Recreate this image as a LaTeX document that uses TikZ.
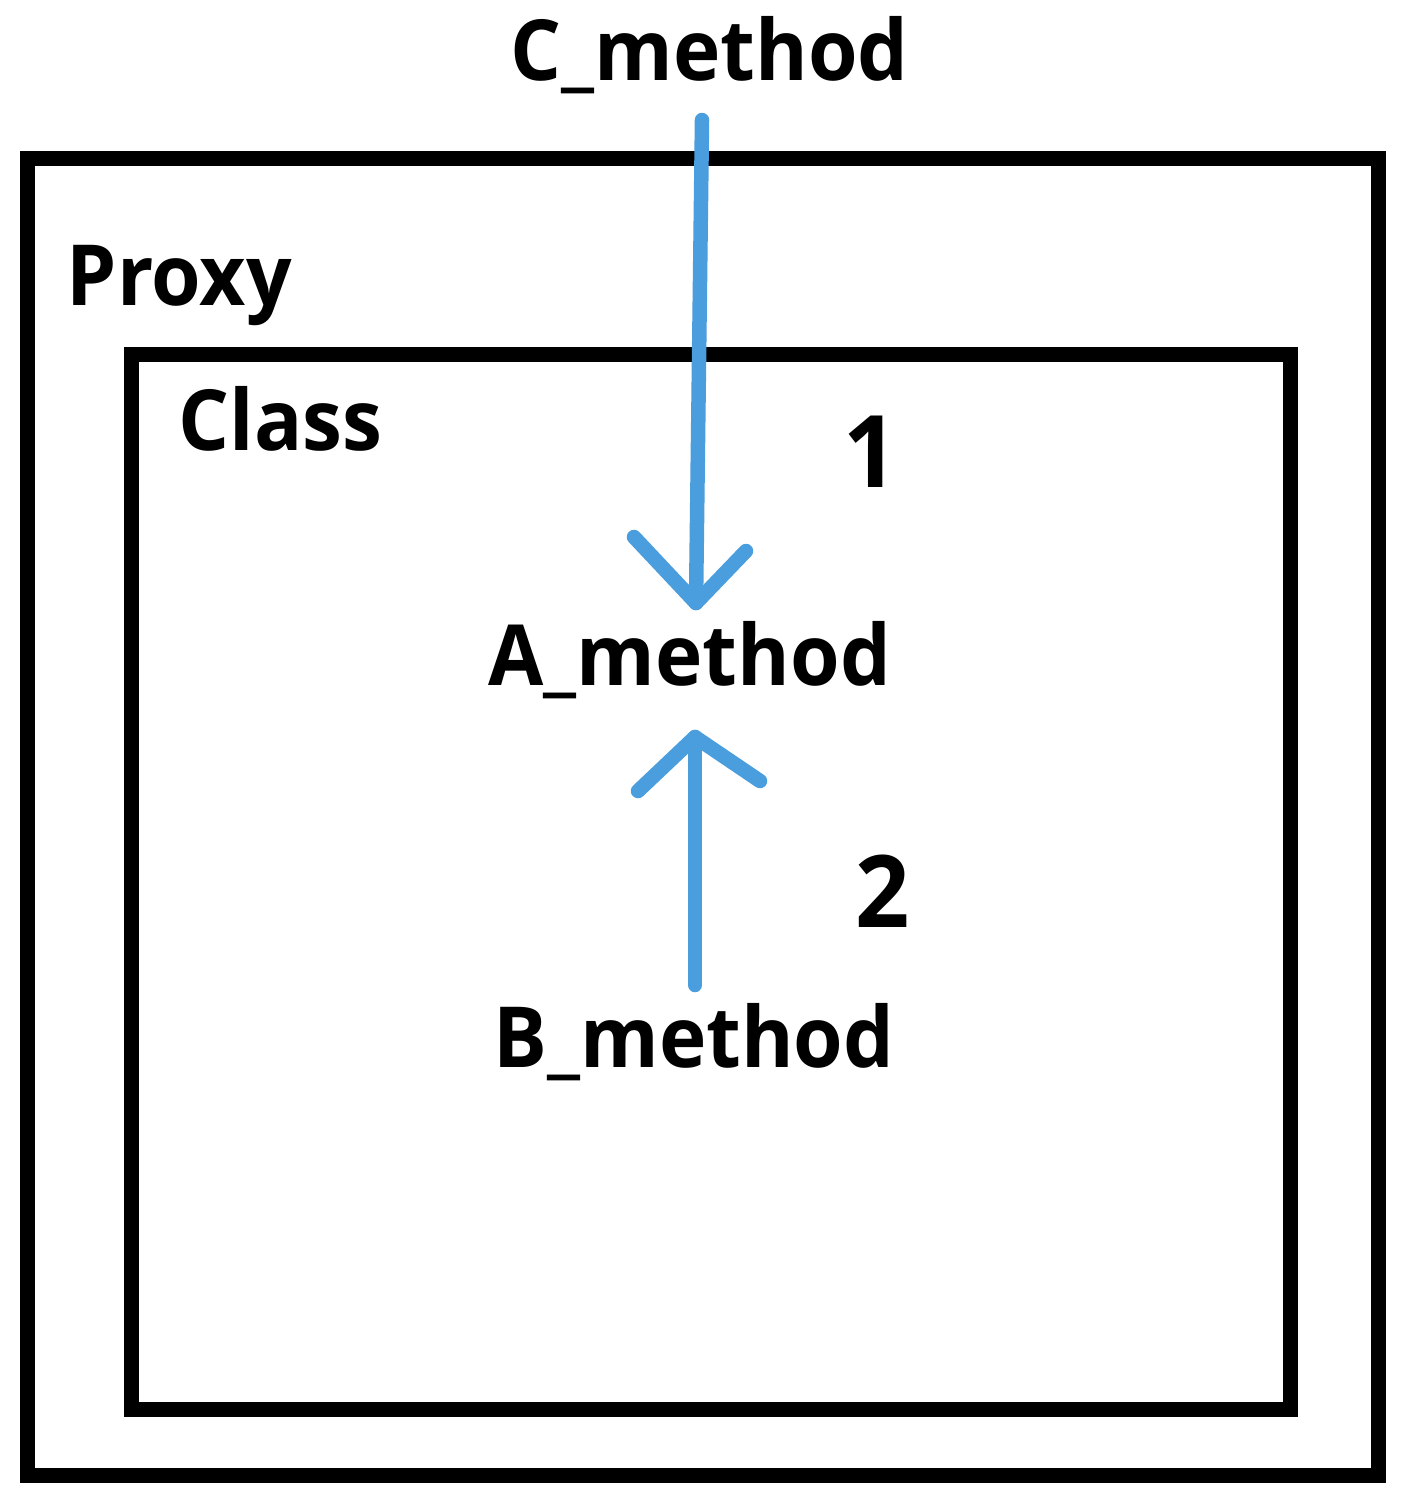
\documentclass[tikz,border=0pt]{standalone}
\usepackage{fontspec}
\setmainfont[FakeStretch=0.95]{Open Sans}
\begin{document}
\begin{tikzpicture}[x=0.1mm,y=-0.1mm,
  frame/.style={draw=black,line width=1.5mm,line join=miter},
  lbl/.style={inner sep=0pt,anchor=base west,font=\fontsize{24}{28}\selectfont\bfseries},
  num/.style={inner sep=0pt,anchor=base west,font=\fontsize{28.5}{34}\selectfont\bfseries},
  flow/.style={draw=arrowblue,line width=1.45mm,line cap=round,line join=round}]
\definecolor{arrowblue}{RGB}{74,158,222}
\useasboundingbox (0,0) rectangle (1408,1502);
\fill[white] (0,0) rectangle (1408,1502);
% frames
\draw[frame] (27.5,158.5) rectangle (1378.5,1475);
\draw[frame] (131.5,354) rectangle (1290.5,1409);
% labels
\node[lbl] (proxy) at (66,305) {Proxy};
\node[lbl] (class) at (178,450) {Class};
\node[lbl] (cm) at (510,80) {C\_method};
\node[lbl] (am) at (488,685) {A\_method};
\node[lbl] (bm) at (493,1067) {B\_method};
\node[num] (one) at (843,487) {1};
\node[num] (two) at (855,927) {2};
% arrow 1
\coordinate (c1top) at (702,120);
\coordinate (a1tip) at (696,603);
\coordinate (a1l) at (634,537);
\coordinate (a1r) at (746,551);
\draw[flow] (c1top) -- (a1tip);
\draw[flow] (a1l) -- (a1tip) -- (a1r);
% arrow 2
\coordinate (b2bot) at (695,985);
\coordinate (a2tip) at (695,737);
\coordinate (a2l) at (638,791);
\coordinate (a2r) at (760,781);
\draw[flow] (b2bot) -- (a2tip);
\draw[flow] (a2l) -- (a2tip) -- (a2r);
\end{tikzpicture}
\end{document}
